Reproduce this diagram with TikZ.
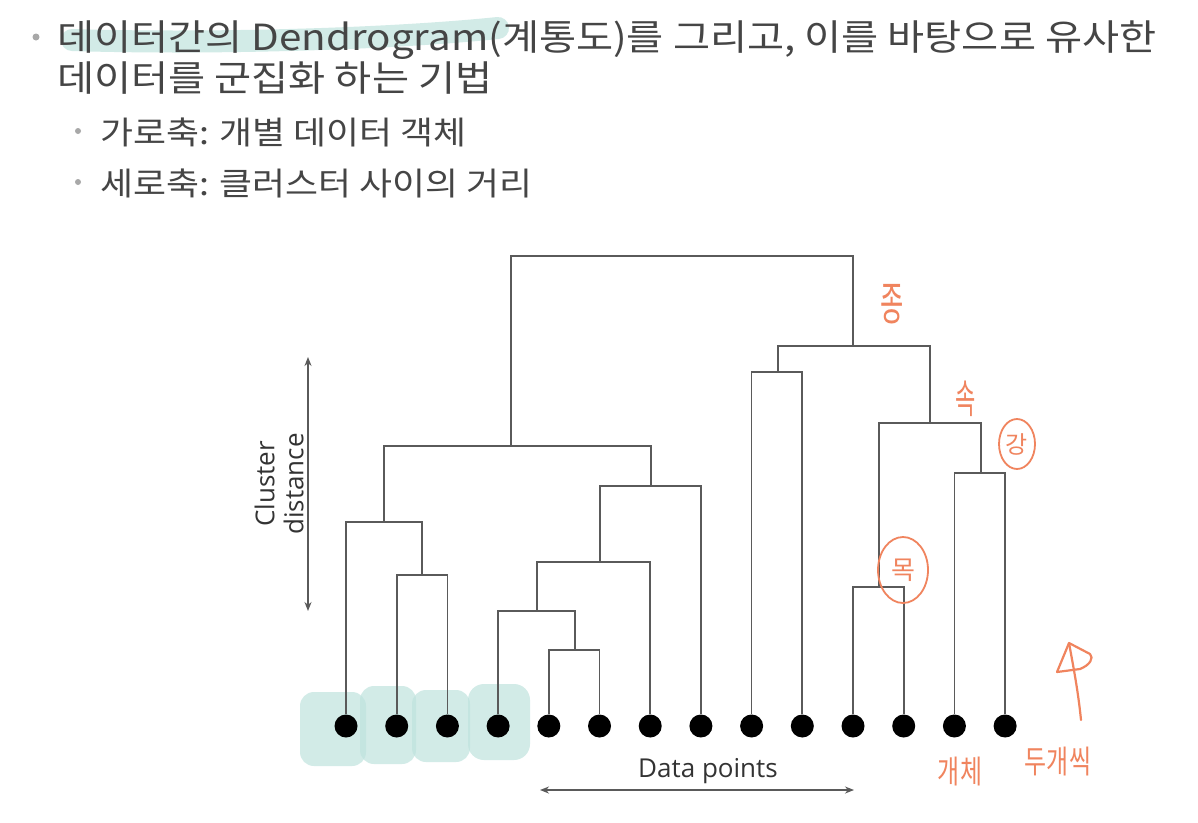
\documentclass[tikz,border=0pt]{standalone}
\usepackage{fontspec}
\usetikzlibrary{arrows.meta}
\newfontfamily\kr{Noto Sans CJK KR}
\newfontfamily\krw{Noto Sans CJK KR}[FakeStretch=1.12]
\newfontfamily\lab{Open Sans}
\definecolor{txt}{HTML}{454545}
\definecolor{bul}{HTML}{A8A8A8}
\definecolor{teal}{HTML}{BFE3DE}
\definecolor{pen}{HTML}{F0845E}
\definecolor{ln}{HTML}{5A5A5A}
\tikzset{
  body/.style={anchor=base west, inner sep=0pt, text=txt, font=\krw\fontsize{36}{40}\selectfont},
  subbody/.style={anchor=base west, inner sep=0pt, text=txt, font=\krw\fontsize{32}{36}\selectfont},
  bulletdot/.style={circle, fill=bul, inner sep=0pt, minimum size=#1},
  dot/.style={circle, fill=black, inner sep=0pt, minimum size=23pt},
  link/.style={draw=ln, line width=1.7pt},
  dim/.style={draw=ln, line width=1.4pt, {Stealth[length=9pt,width=7pt]}-{Stealth[length=9pt,width=7pt]}},
  lbl/.style={text=black!80, font=\lab\fontsize{26}{29}\selectfont, inner sep=0pt, align=center},
  hand/.style={text=pen, font=\kr\fontsize{34}{36}\selectfont, inner sep=0pt},
  ink/.style={draw=pen, line width=2.2pt, line cap=round, line join=round},
}
\begin{document}
\begin{tikzpicture}[x=1pt,y=-1pt]
\useasboundingbox (0,0) rectangle (1198,822);
\fill[white] (0,0) rectangle (1198,822);

% teal highlighter
\draw[teal, opacity=0.7, line width=22pt, line cap=round]
  (72,40) .. controls (200,44) and (380,40) .. (498,28);
\begin{scope}[teal, opacity=0.7]
  \fill[rounded corners=14pt] (300,692) rectangle (366,766);
  \fill[rounded corners=14pt] (360,686) rectangle (416,764);
  \fill[rounded corners=14pt] (412,690) rectangle (470,762);
  \fill[rounded corners=16pt] (468,684) rectangle (530,760);
\end{scope}

% text
\node[bulletdot=7pt] (b1) at (36,37) {};
\node[body] (t1) at (57,50) {데이터간의 Dendrogram(계통도)를 그리고, 이를 바탕으로 유사한};
\node[body] (t2) at (57,91) {데이터를 군집화 하는 기법};
\node[bulletdot=6pt] (b2) at (78,131) {};
\node[subbody] (t3) at (100,144) {가로축: 개별 데이터 객체};
\node[bulletdot=6pt] (b3) at (78,182) {};
\node[subbody] (t4) at (100,195) {세로축: 클러스터 사이의 거리};

% data points
\foreach \i in {1,...,14} {
  \node[dot] (p\i) at ({346+50.7*(\i-1)},726) {};
}

% merge points
\coordinate (ma) at (422,575);
\coordinate (mb) at (384,522);
\coordinate (mc) at (575,650);
\coordinate (md) at (537,611);
\coordinate (me) at (600,562);
\coordinate (mf) at (651,486);
\coordinate (mg) at (511,446);
\coordinate (mh) at (778,372);
\coordinate (mi) at (879,587);
\coordinate (mj) at (981,473);
\coordinate (mk) at (930,423);
\coordinate (ml) at (853,346);
\coordinate (mr) at (682,256);

\path[link] (p2) |- (ma) -| (p3);
\path[link] (p1) |- (mb) -| (ma);
\path[link] (p5) |- (mc) -| (p6);
\path[link] (p4) |- (md) -| (mc);
\path[link] (md) |- (me) -| (p7);
\path[link] (me) |- (mf) -| (p8);
\path[link] (mb) |- (mg) -| (mf);
\path[link] (p9) |- (mh) -| (p10);
\path[link] (p11) |- (mi) -| (p12);
\path[link] (p13) |- (mj) -| (p14);
\path[link] (mi) |- (mk) -| (mj);
\path[link] (mh) |- (ml) -| (mk);
\path[link] (mg) |- (mr) -| (ml);

% axes
\coordinate (cdtop) at (308,357);
\coordinate (cdbot) at (308,611);
\draw[dim] (cdtop) -- (cdbot);
\node[lbl, rotate=90] (cdl) at (279,484) {Cluster\\distance};
\coordinate (dpl) at (540,790);
\coordinate (dpr) at (854,790);
\draw[dim] (dpl) -- (dpr);
\node[lbl, anchor=base] (dpt) at (708,777) {Data points};

% handwritten annotations
\node[hand, xscale=0.55, font=\kr\fontsize{46}{48}\selectfont] (h1) at (892,304) {종};
\node[hand, xscale=0.55, font=\kr\fontsize{40}{42}\selectfont] (h2) at (966,399) {속};
\node[hand, font=\kr\fontsize{24}{26}\selectfont] (h3) at (1017,444) {강};
\draw[ink, line width=1.8pt] (h3) ellipse [x radius=18pt, y radius=25pt];
\node[hand, font=\kr\fontsize{26}{28}\selectfont] (h4) at (903,570) {목};
\draw[ink, line width=1.8pt] (h4) ellipse [x radius=25pt, y radius=33pt];
\coordinate (arb) at (1081,720);
\coordinate (art) at (1069,643);
\draw[ink] (arb) .. controls (1078,690) and (1073,665) .. (art);
\draw[ink] (art) -- (1057,672) -- (1080,669) .. controls (1090,665) and (1094,658) .. (1090,654) -- (art);
\node[hand, xscale=0.75, font=\kr\fontsize{32}{34}\selectfont] (h5) at (960,772) {개체};
\node[hand, xscale=0.75, font=\kr\fontsize{32}{34}\selectfont] (h6) at (1058,762) {두개씩};
\end{tikzpicture}
\end{document}
